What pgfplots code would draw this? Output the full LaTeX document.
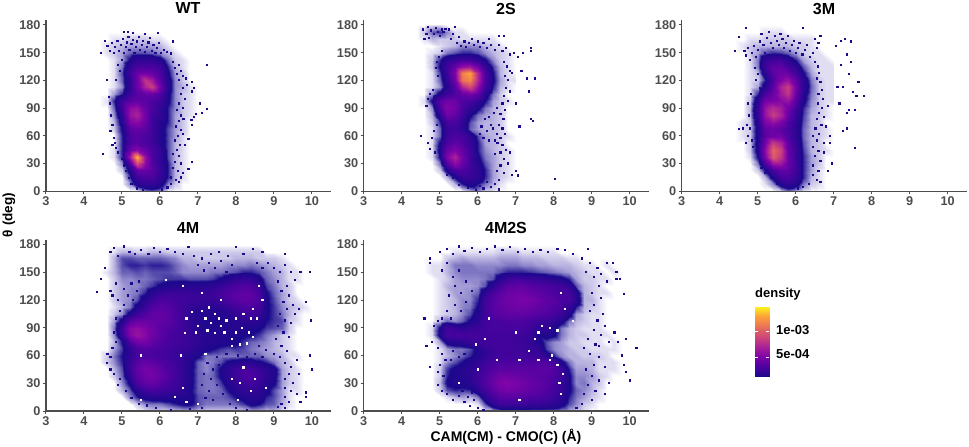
\documentclass[border=0pt]{standalone}
\usepackage{pgfplots}
\usepackage{fontspec}
\setmainfont{Liberation Sans}
\pgfplotsset{compat=1.18}
\definecolor{ax}{HTML}{4D4D4D}
\definecolor{nv}{HTML}{1B0A8C}
\pgfplotsset{
 colormap={dens}{rgb255(0pt)=(255,255,255); rgb255(1pt)=(225,222,242); rgb255(4pt)=(165,158,215); rgb255(8pt)=(85,75,172); rgb255(11pt)=(27,8,140); rgb255(30pt)=(76,2,160); rgb255(50pt)=(126,3,168); rgb255(70pt)=(170,35,150); rgb255(85pt)=(200,63,125); rgb255(100pt)=(220,91,104); rgb255(115pt)=(240,127,79); rgb255(130pt)=(251,162,56); rgb255(148pt)=(253,240,28)},
 colormap={densbar}{rgb255(0pt)=(27,8,140); rgb255(20pt)=(76,2,160); rgb255(40pt)=(126,3,168); rgb255(60pt)=(170,35,150); rgb255(75pt)=(200,63,125); rgb255(90pt)=(220,91,104); rgb255(105pt)=(240,127,79); rgb255(120pt)=(251,162,56); rgb255(138pt)=(253,240,28)},
 panel/.style={scale only axis,width=285pt,height=171.2pt,xmin=3,xmax=10.5,ymin=0,ymax=185.2,
  axis lines*=left,axis on top,axis line style={draw=ax,line width=1.2pt,-},
  xtick={3,4,5,6,7,8,9,10},ytick={0,30,60,90,120,150,180},
  tick style={draw=ax,line width=1pt},major tick length=3pt,
  tick align=outside,
  /pgf/number format/assume math mode=true,
  tick label style={font=\bfseries\fontsize{12.7}{13}\selectfont,text=ax},
  xticklabel style={yshift=1pt},yticklabel style={xshift=1pt},
  colormap name=dens,point meta min=0,point meta max=148,view={0}{90}},
 small/.style={surf,shader=interp,mesh/cols=14,point meta=\thisrow{c}},
 big/.style={surf,shader=interp,mesh/cols=29,point meta=\thisrow{c}},
 sp/.style={only marks,mark=square*,mark size=0.6pt,mark options={draw=nv,fill=nv,line width=0pt},color=nv},
 wsp/.style={only marks,mark=square*,mark size=0.6pt,mark options={draw=white,fill=white,line width=0pt},color=white},
 table/smalltab/.style={row sep=crcr,x expr={4.4+0.2*mod(\coordindex,14)},y expr={7.5*floor(\coordindex/14)}},
 table/bigtab/.style={row sep=crcr,x expr={4.4+0.2*mod(\coordindex,29)},y expr={7.5*floor(\coordindex/29)}},
}
\begin{document}
\begin{tikzpicture}
\path[use as bounding box] (0pt,0pt) rectangle (969pt,447pt);
% WT
\begin{axis}[panel,at={(46pt,255.7pt)},anchor=south west]
\addplot[small] table[smalltab] {c\\
0\\0\\0\\0\\0\\0\\5\\7\\5\\0\\0\\0\\0\\0\\
0\\0\\0\\0\\5\\15\\20\\20\\15\\5\\2\\0\\0\\0\\
0\\0\\0\\0\\10\\25\\30\\30\\20\\10\\3\\1\\0\\0\\
0\\0\\0\\2\\15\\40\\40\\35\\22\\10\\3\\1\\0\\0\\
0\\0\\0\\5\\30\\90\\55\\32\\20\\10\\3\\1\\0\\0\\
0\\0\\1\\10\\65\\135\\60\\30\\20\\8\\3\\1\\0\\0\\
0\\0\\1\\10\\40\\55\\40\\30\\20\\8\\3\\1\\0\\0\\
0\\0\\0\\10\\30\\35\\30\\25\\15\\8\\3\\1\\0\\0\\
0\\0\\0\\10\\30\\35\\30\\25\\15\\8\\4\\1\\0\\0\\
0\\0\\2\\12\\35\\40\\35\\25\\15\\8\\4\\2\\0\\0\\
0\\0\\3\\15\\50\\55\\40\\25\\15\\10\\4\\2\\0\\0\\
0\\0\\5\\20\\60\\70\\45\\25\\20\\10\\4\\2\\1\\0\\
0\\0\\7\\25\\55\\60\\40\\30\\20\\10\\5\\2\\1\\0\\
0\\1\\10\\25\\35\\40\\35\\30\\25\\12\\5\\2\\1\\0\\
0\\0\\4\\10\\25\\35\\40\\40\\30\\13\\5\\2\\1\\0\\
0\\0\\1\\5\\20\\42\\70\\85\\45\\15\\5\\3\\1\\0\\
0\\0\\1\\7\\20\\42\\80\\65\\35\\15\\5\\2\\0\\0\\
0\\0\\1\\8\\25\\40\\45\\40\\30\\12\\4\\2\\0\\0\\
0\\0\\1\\6\\20\\30\\30\\30\\25\\10\\3\\1\\0\\0\\
0\\0\\1\\4\\12\\20\\20\\20\\15\\6\\2\\1\\0\\0\\
0\\1\\2\\4\\7\\8\\8\\7\\5\\3\\1\\0\\0\\0\\
0\\1\\2\\3\\4\\4\\4\\4\\3\\1\\0\\0\\0\\0\\
0\\0\\1\\1\\2\\2\\2\\1\\1\\0\\0\\0\\0\\0\\
0\\0\\0\\0\\0\\0\\0\\0\\0\\0\\0\\0\\0\\0\\
0\\0\\0\\0\\0\\0\\0\\0\\0\\0\\0\\0\\0\\0\\
};
\addplot[sp] coordinates {(7.24,137)(7.24,89)(7.05,95)(6.95,84)(6.9,80)(6.85,72)(6.83,77)(7.1,85)(6.85,108)(6.9,112)(6.85,118)(6.35,162)(5.95,171)(4.55,163)(4.45,150)(5.05,172)(5.3,171)(6.75,57)(6.65,50)(6.85,32)(6.75,24)(6.55,15)(4.5,40)(4.6,120)
(4.62,157)(4.68,152)(4.73,160)(4.78,150)(4.82,156)(4.88,163)(4.93,152)(4.97,158)(5.02,165)(5.05,150)(5.1,156)(5.13,161)(5.17,167)(5.2,153)(5.25,159)(5.28,164)(5.33,150)(5.36,156)(5.4,162)(5.44,167)(5.48,153)(5.52,158)(5.56,163)(5.6,151)(5.65,156)(5.7,161)(5.74,166)(5.78,152)(5.83,158)(5.88,150)(5.92,155)(5.98,160)(6.03,150)(6.1,153)(6.18,151)(6.28,149)(5.15,172)(5.6,170)
(6.35,140)(6.4,133)(6.5,137)(6.45,127)(6.55,130)(6.6,125)(6.5,120)(6.68,122)(6.72,115)(6.6,112)(6.55,105)(6.65,100)(6.5,95)(6.6,90)(6.45,88)(6.55,82)(6.5,76)(6.62,78)(6.42,70)(6.55,66)(6.48,60)(6.6,62)(6.4,55)(6.52,50)(6.45,45)(6.35,40)(6.5,38)(6.4,32)(6.55,30)(6.35,25)(6.48,22)(6.6,20)(6.3,15)(6.42,12)(6.5,10)(6.3,8)(6.2,4)(6.05,2)
(4.82,52)(4.85,47)(4.9,42)(4.75,50)(4.8,58)(4.7,65)(4.75,72)(4.72,82)(4.68,95)(4.65,102)(5.0,35)(5.05,28)(5.1,22)(5.18,14)(5.25,8)(5.4,3)(5.55,1)(4.85,120)(4.95,130)(5,142)(4.9,137)};
\end{axis}
% 2S
\begin{axis}[panel,at={(363.7pt,255.7pt)},anchor=south west]
\addplot[small] table[smalltab] {c\\
0\\0\\0\\0\\0\\0\\0\\3\\5\\2\\1\\0\\0\\0\\
0\\0\\0\\0\\0\\3\\10\\15\\10\\6\\3\\1\\0\\0\\
0\\0\\0\\0\\3\\12\\22\\22\\18\\10\\4\\2\\1\\0\\
0\\0\\0\\2\\15\\30\\30\\25\\18\\10\\4\\2\\1\\0\\
0\\0\\0\\6\\32\\55\\40\\25\\15\\8\\4\\2\\1\\0\\
0\\0\\1\\12\\50\\70\\45\\25\\12\\6\\4\\2\\1\\0\\
0\\0\\1\\14\\40\\50\\40\\25\\10\\5\\3\\2\\1\\0\\
0\\0\\1\\12\\30\\38\\32\\22\\10\\4\\3\\2\\0\\0\\
0\\0\\1\\7\\24\\30\\28\\18\\8\\4\\3\\2\\1\\0\\
0\\0\\1\\7\\22\\25\\18\\7\\4\\3\\3\\2\\0\\0\\
0\\0\\2\\10\\28\\28\\18\\8\\4\\3\\3\\2\\0\\0\\
0\\0\\3\\20\\44\\38\\25\\12\\6\\4\\3\\2\\0\\0\\
0\\0\\5\\30\\52\\45\\30\\20\\12\\6\\3\\2\\0\\0\\
0\\1\\12\\35\\45\\42\\32\\28\\20\\11\\4\\2\\1\\0\\
0\\0\\5\\14\\25\\32\\40\\45\\35\\15\\6\\2\\0\\0\\
0\\0\\1\\5\\16\\35\\70\\90\\55\\25\\10\\3\\1\\0\\
0\\0\\1\\7\\20\\45\\110\\120\\70\\30\\12\\4\\1\\1\\
0\\0\\1\\9\\24\\50\\115\\130\\70\\30\\11\\3\\1\\0\\
0\\0\\2\\12\\25\\40\\60\\65\\45\\22\\9\\3\\1\\0\\
0\\0\\2\\10\\18\\22\\26\\26\\20\\12\\5\\2\\1\\0\\
0\\0\\1\\2\\6\\8\\10\\10\\8\\5\\3\\2\\1\\0\\
0\\0\\0\\1\\2\\3\\5\\5\\5\\3\\2\\1\\0\\0\\
0\\1\\3\\2\\2\\2\\1\\1\\1\\1\\1\\0\\0\\0\\
0\\2\\7\\9\\5\\1\\1\\0\\0\\0\\0\\0\\0\\0\\
0\\0\\1\\1\\0\\0\\0\\0\\0\\0\\0\\0\\0\\0\\
};
\addplot[sp] coordinates {(8.03,13)(7.4,78)(7.45,76)(7.5,122)(7.3,122)(7.35,108)(7.4,155)(7.4,152)(7.2,150)(7.15,130)(7.0,95)(7.1,70)(6.55,2)(6.55,168)(6.3,165)(7.0,22)(7.05,17)(6.9,18)(4.5,60)(6.7,168)(4.55,175)
(4.6,165)(4.65,170)(4.7,178)(4.72,166)(4.78,174)(4.85,170)(4.9,177)(4.95,172)(5.0,168)(5.05,175)(5.1,172)(5.15,176)(5.25,175)(5.4,178)(5.35,170)(5.3,165)(5.45,160)(5.5,167)(5.55,157)(5.65,162)(5.7,156)(5.78,160)(5.85,165)(5.9,158)(6.0,162)(6.05,156)(6.15,160)(6.25,155)(6.35,158)(6.45,153)(6.55,158)(6.65,152)(6.75,155)(6.85,148)(6.95,150)(7.05,145)
(6.7,140)(6.78,135)(6.85,130)(6.72,125)(6.8,120)(6.9,128)(6.75,112)(6.85,108)(6.7,103)(6.8,98)(6.65,95)(6.72,88)(6.6,84)(6.68,78)(6.55,72)(6.65,68)(6.5,62)(6.6,58)(6.72,62)(6.45,55)(6.3,80)(6.42,85)(6.5,90)(6.35,72)(6.2,78)(6.1,70)(6.25,65)(6.4,68)(6.05,62)(6.15,58)(6.3,55)(6.52,52)(6.65,50)(6.75,45)(6.85,42)(6.6,42)(6.45,40)(6.7,35)(6.8,30)(6.6,28)(6.5,22)(6.7,20)(6.55,12)(6.45,8)(6.35,5)(6.25,10)(6.15,3)(6.05,6)(5.95,1)(5.75,4)(5.5,7)(5.35,14)(5.2,18)
(4.7,52)(4.75,46)(4.8,58)(4.85,65)(4.88,42)(4.92,72)(4.95,80)(4.7,100)(4.65,92)(4.75,105)(4.82,110)(4.95,125)(4.9,133)(4.98,145)(4.92,140)(5.05,152)};
\end{axis}
% 3M
\begin{axis}[panel,at={(681.7pt,255.7pt)},anchor=south west]
\addplot[small] table[smalltab] {c\\
0\\0\\0\\0\\0\\0\\2\\6\\3\\1\\0\\0\\0\\0\\
0\\0\\0\\0\\1\\5\\15\\20\\14\\6\\2\\1\\0\\0\\
0\\0\\0\\0\\3\\14\\28\\30\\22\\10\\3\\1\\0\\0\\
0\\0\\0\\2\\12\\28\\38\\36\\24\\10\\4\\1\\0\\0\\
0\\0\\0\\6\\28\\60\\60\\40\\24\\10\\4\\2\\0\\0\\
0\\0\\1\\12\\50\\100\\80\\42\\22\\10\\4\\2\\0\\0\\
0\\0\\2\\15\\55\\105\\85\\40\\22\\9\\3\\2\\1\\0\\
0\\0\\2\\15\\45\\85\\70\\38\\20\\8\\3\\2\\0\\0\\
0\\1\\2\\15\\35\\45\\45\\30\\18\\7\\3\\2\\1\\0\\
0\\1\\2\\15\\38\\42\\35\\28\\17\\7\\3\\2\\1\\0\\
0\\1\\2\\18\\50\\60\\48\\32\\18\\8\\3\\2\\0\\0\\
0\\0\\3\\22\\60\\85\\70\\40\\20\\9\\3\\2\\1\\0\\
0\\0\\3\\22\\60\\75\\65\\45\\25\\10\\4\\2\\1\\0\\
0\\0\\2\\18\\45\\50\\55\\60\\32\\13\\5\\2\\1\\1\\
0\\0\\1\\10\\30\\42\\65\\80\\40\\15\\6\\2\\1\\1\\
0\\0\\1\\4\\16\\35\\70\\85\\45\\18\\7\\2\\1\\1\\
0\\0\\1\\2\\10\\30\\50\\60\\38\\18\\6\\2\\1\\1\\
0\\0\\1\\3\\18\\35\\42\\40\\26\\12\\4\\1\\1\\1\\
0\\0\\1\\6\\25\\38\\38\\28\\18\\8\\3\\1\\1\\1\\
0\\0\\1\\6\\20\\26\\26\\18\\10\\4\\2\\1\\1\\0\\
0\\0\\2\\4\\8\\10\\9\\7\\4\\2\\1\\1\\0\\0\\
0\\1\\2\\3\\3\\3\\3\\3\\2\\2\\1\\0\\0\\0\\
0\\0\\1\\1\\2\\2\\2\\2\\1\\1\\1\\0\\0\\0\\
0\\0\\0\\0\\1\\1\\1\\0\\0\\0\\0\\0\\0\\0\\
0\\0\\0\\0\\0\\0\\0\\0\\0\\0\\0\\0\\0\\0\\
};
\addplot[sp] coordinates {(7.55,47)(7.8,103)(7.6,103)(7.5,107)(7.65,118)(7.4,127)(7.45,140)(7.35,148)(7.3,165)(7.2,163)(7.45,162)(7.05,157)(7.2,137)(7.1,113)(7.25,113)(7.4,88)(7.35,68)(7.25,65)(7.15,95)(7.35,85)(7.55,88)(6.2,177)(4.7,177)(4.5,167)(4.4,152)(4.5,67)(6.65,168)
(4.65,152)(4.7,147)(4.75,155)(4.8,142)(4.85,150)(4.9,157)(4.95,145)(5.0,153)(5.05,162)(5.1,170)(5.15,158)(5.2,150)(5.25,166)(5.3,172)(5.35,160)(5.4,155)(5.45,168)(5.5,163)(5.55,158)(5.6,170)(5.65,165)(5.7,155)(5.75,160)(5.8,168)(5.85,152)(5.9,158)(5.95,163)(6.0,150)(6.05,155)(6.1,160)(6.18,148)(6.25,153)(6.3,158)(6.38,145)(6.45,150)(6.5,165)(6.55,155)(6.6,160)
(6.5,140)(6.58,135)(6.62,128)(6.55,122)(6.65,118)(6.7,110)(6.6,105)(6.72,100)(6.58,95)(6.7,90)(6.85,92)(6.62,85)(6.75,80)(6.55,78)(6.68,72)(6.8,70)(6.52,68)(6.62,62)(6.9,60)(6.45,60)(6.55,55)(6.75,52)(6.9,52)(6.45,48)(6.6,44)(6.75,42)(6.5,38)(6.65,33)(6.95,30)(6.45,28)(6.6,22)(6.85,22)(6.45,18)(6.55,12)(6.65,10)(6.35,8)(6.2,5)(6.05,3)(5.9,4)(5.5,8)(5.35,14)(5.2,20)(5.1,25)
(4.75,60)(4.7,52)(4.8,68)(4.72,72)(4.78,82)(4.75,95)(4.82,105)(4.85,55)(4.88,48)(4.62,68)(4.95,120)(5.0,127)(4.92,133)(5.05,112)};
\end{axis}
% 4M
\begin{axis}[panel,at={(46pt,36pt)},anchor=south west]
\addplot[big] table[bigtab] {c\\
0\\0\\0\\0\\0\\0\\1\\2\\2\\2\\2\\3\\3\\2\\2\\2\\2\\2\\2\\2\\3\\3\\2\\3\\1\\0\\0\\0\\0\\
0\\0\\0\\0\\0\\2\\5\\6\\6\\8\\10\\12\\12\\8\\6\\6\\6\\6\\7\\9\\13\\11\\8\\7\\3\\1\\0\\0\\0\\
0\\0\\0\\0\\5\\10\\14\\16\\16\\15\\14\\14\\13\\8\\7\\7\\7\\8\\11\\14\\16\\15\\10\\8\\4\\1\\0\\0\\0\\
0\\0\\0\\3\\8\\18\\25\\28\\26\\24\\22\\18\\12\\7\\6\\6\\7\\11\\16\\20\\21\\18\\13\\8\\4\\1\\1\\0\\0\\
0\\0\\0\\5\\13\\30\\38\\40\\34\\28\\24\\20\\13\\7\\6\\6\\9\\15\\20\\24\\26\\22\\16\\12\\4\\2\\1\\0\\0\\
0\\0\\2\\7\\20\\36\\44\\46\\40\\32\\26\\20\\13\\7\\6\\7\\12\\18\\25\\30\\30\\25\\18\\13\\4\\2\\1\\0\\0\\
0\\0\\3\\8\\24\\38\\46\\44\\38\\30\\26\\20\\13\\7\\5\\7\\12\\18\\24\\30\\28\\23\\18\\14\\4\\2\\1\\0\\0\\
0\\2\\5\\10\\22\\34\\40\\37\\32\\28\\24\\20\\14\\7\\5\\6\\8\\12\\14\\16\\16\\12\\10\\6\\3\\2\\0\\0\\0\\
0\\2\\6\\11\\20\\28\\30\\29\\27\\25\\23\\20\\16\\12\\6\\6\\6\\6\\6\\7\\7\\7\\5\\4\\3\\1\\1\\0\\0\\
0\\0\\4\\9\\20\\30\\32\\30\\28\\26\\24\\22\\20\\16\\13\\11\\9\\8\\9\\8\\6\\5\\4\\3\\2\\1\\0\\0\\0\\
0\\0\\3\\11\\30\\44\\46\\38\\32\\28\\26\\24\\22\\18\\16\\15\\14\\13\\12\\9\\7\\6\\5\\3\\2\\1\\0\\0\\0\\
0\\0\\5\\22\\52\\60\\54\\44\\36\\30\\26\\24\\22\\18\\16\\15\\15\\14\\13\\12\\11\\9\\6\\4\\2\\1\\0\\0\\0\\
0\\0\\6\\24\\52\\57\\50\\44\\36\\32\\28\\24\\20\\16\\14\\14\\14\\15\\15\\14\\13\\12\\9\\8\\7\\2\\0\\0\\0\\
0\\0\\4\\14\\34\\42\\42\\40\\38\\36\\30\\24\\18\\15\\13\\13\\13\\14\\16\\18\\18\\16\\11\\9\\8\\2\\1\\0\\0\\
0\\0\\2\\5\\14\\24\\32\\38\\40\\36\\30\\24\\18\\15\\14\\14\\15\\16\\20\\24\\26\\22\\12\\9\\6\\3\\1\\0\\0\\
0\\0\\1\\3\\6\\14\\22\\32\\36\\34\\28\\24\\20\\18\\16\\16\\18\\22\\26\\30\\30\\26\\12\\9\\5\\3\\2\\1\\0\\
0\\0\\2\\4\\5\\8\\16\\24\\30\\30\\27\\26\\24\\22\\22\\22\\26\\30\\34\\37\\36\\30\\12\\8\\4\\2\\1\\0\\0\\
0\\0\\2\\4\\5\\6\\10\\16\\22\\24\\24\\24\\22\\22\\22\\24\\28\\32\\36\\38\\36\\28\\12\\7\\4\\2\\0\\0\\0\\
0\\0\\2\\4\\5\\5\\7\\9\\12\\14\\15\\16\\16\\16\\17\\18\\22\\26\\30\\32\\30\\22\\9\\6\\3\\2\\0\\0\\0\\
0\\0\\2\\5\\5\\6\\6\\7\\8\\9\\9\\9\\8\\8\\8\\9\\12\\16\\20\\22\\20\\14\\7\\5\\3\\1\\1\\0\\0\\
0\\1\\3\\7\\7\\8\\7\\8\\8\\8\\7\\5\\5\\5\\5\\6\\6\\7\\8\\10\\10\\8\\6\\4\\3\\1\\1\\0\\0\\
0\\0\\3\\8\\10\\10\\9\\10\\10\\9\\7\\5\\4\\4\\4\\4\\4\\5\\5\\5\\6\\5\\4\\3\\2\\1\\0\\0\\0\\
0\\0\\3\\8\\8\\7\\7\\7\\7\\6\\5\\3\\3\\2\\2\\2\\2\\2\\3\\3\\3\\2\\2\\2\\1\\0\\0\\0\\0\\
0\\0\\1\\3\\3\\2\\2\\3\\3\\2\\2\\2\\2\\2\\2\\2\\2\\2\\2\\2\\2\\2\\0\\0\\0\\0\\0\\0\\0\\
0\\0\\0\\0\\0\\0\\0\\0\\0\\0\\0\\0\\0\\0\\0\\0\\0\\0\\0\\0\\0\\0\\0\\0\\0\\0\\0\\0\\0\\
};
\addplot[wsp] coordinates {(6.7,100)(6.85,107)(7,92)(7.1,108)(7.2,100)(7.3,112)(7.35,95)(7.45,105)(7.55,100)(7.6,92)(6.65,84)(6.95,85)(7.25,87)(7.45,84)(7.7,85)(7.9,78)(8,85)(8.15,90)(8.35,85)(8.4,100)(8.2,105)(8.45,110)(7.75,98)(8,100)(6.55,60)(7.2,62)(7.9,70)(8.1,72)(8.3,73)(8.45,80)(6.4,15)(6.7,10)(7,8)(8.05,12)(8.4,22)(8.1,30)(7.9,35)(8.5,35)(8.8,25)(8.2,47)(5.5,60)(6.6,25)(5.5,12)(8.6,135)(8.7,120)(6.15,142)(6.6,135)(7.1,128)(7.6,120)(8.55,100)};
\addplot[sp] coordinates {(4.35,129)(4.45,143)(4.55,155)(9.97,98)(9.85,118)(10.0,45)(9.95,60)(9.85,20)(9.85,15)(9.7,10)(9.65,40)(9.95,150)(9.7,150)(9.65,110)(9.55,105)(8,177)(6.75,177)
(4.7,172)(4.8,176)(4.9,168)(5.05,178)(5.2,172)(5.35,170)(5.5,174)(5.7,170)(5.85,176)(6,172)(6.2,175)(6.4,172)(6.6,170)(6.9,168)(7.1,165)(7.35,170)(7.55,172)(7.8,168)(8.2,170)(8.45,175)(8.7,172)(9.3,170)(7.0,158)(7.15,152)(7.3,160)(7.45,155)(7.6,162)(7.75,150)(7.9,158)(8.55,160)(8.7,155)(8.85,160)(9,155)(9.15,150)(9.3,158)(9.45,150)(9.55,142)(9.35,135)(9.2,130)(9.1,140)(9.4,125)(9.5,115)(9.25,118)(9.35,110)(9.15,105)(9.3,98)(9.45,95)(9.1,92)(9.25,85)(9.4,80)(9.05,78)(9.2,70)(9.35,65)(9,62)(9.15,58)(9.3,52)(9.45,48)(9.6,55)(9.4,40)(9.3,35)(9.5,30)(9.3,25)(9.45,22)(9.6,18)(9.3,15)(9.4,10)(9.2,8)(9.1,4)(9.3,3)(8.8,66)(8.6,70)(8.9,50)(8.7,58)(8.5,62)(8.3,58)(8.05,60)(7.75,62)(7.5,58)(7.25,52)(7.4,45)(7.55,50)(7.15,40)(7.35,35)(7.6,40)(7.1,28)(7.3,22)(7.5,28)(7.65,18)(7.4,12)(7.2,14)(7.85,8)(8,3)(8.3,1)(7.1,3)(6.8,2)(6.3,1)(5.9,3)(5.65,6)(5.45,8)(5.25,14)(5.1,22)(4.9,28)(4.95,35)(4.8,40)(4.7,45)(4.6,52)(4.7,58)(4.62,62)(4.75,68)(4.85,75)(4.8,85)(4.85,100)(4.95,108)(5.05,115)(4.9,120)(4.75,125)(5.15,125)(5.3,120)(5.4,130)(5.05,132)(5.25,138)(5.45,140)(4.85,138)(4.7,130)};
\end{axis}
% 4M2S
\begin{axis}[panel,at={(363.7pt,36pt)},anchor=south west]
\addplot[big] table[bigtab] {c\\
0\\0\\0\\0\\0\\0\\0\\0\\0\\1\\3\\6\\6\\6\\6\\6\\6\\6\\6\\5\\3\\2\\1\\0\\0\\0\\0\\0\\0\\
0\\0\\0\\0\\0\\0\\0\\0\\1\\8\\18\\24\\24\\24\\24\\22\\22\\20\\18\\14\\8\\5\\2\\1\\0\\0\\0\\0\\0\\
0\\0\\0\\0\\1\\3\\4\\3\\6\\18\\28\\34\\36\\34\\32\\30\\30\\28\\24\\18\\10\\6\\4\\2\\1\\0\\0\\0\\0\\
0\\0\\0\\2\\8\\10\\9\\10\\18\\26\\36\\44\\46\\44\\42\\38\\36\\32\\26\\22\\12\\7\\5\\3\\1\\0\\0\\0\\0\\
0\\0\\0\\3\\12\\15\\14\\16\\24\\32\\42\\50\\52\\48\\44\\40\\38\\34\\28\\22\\12\\5\\6\\3\\2\\0\\0\\0\\0\\
0\\0\\0\\2\\10\\14\\15\\18\\24\\30\\38\\44\\44\\42\\40\\38\\36\\34\\30\\24\\12\\5\\5\\4\\2\\1\\0\\0\\0\\
0\\0\\0\\2\\9\\13\\15\\18\\22\\28\\32\\36\\36\\36\\36\\36\\36\\36\\32\\24\\10\\4\\4\\3\\1\\1\\1\\0\\0\\
0\\0\\0\\1\\5\\8\\11\\15\\20\\24\\28\\30\\30\\30\\30\\30\\32\\32\\28\\14\\6\\3\\3\\3\\1\\1\\1\\0\\0\\
0\\0\\0\\1\\3\\5\\7\\10\\14\\20\\24\\26\\26\\26\\26\\24\\24\\18\\10\\5\\3\\3\\2\\2\\2\\1\\0\\0\\0\\
0\\0\\0\\1\\4\\6\\6\\8\\14\\20\\24\\26\\26\\25\\24\\22\\20\\9\\5\\4\\3\\2\\2\\1\\1\\1\\1\\0\\0\\
0\\0\\0\\4\\14\\16\\18\\22\\24\\26\\26\\26\\25\\24\\23\\20\\15\\8\\5\\4\\2\\2\\1\\1\\1\\0\\1\\0\\0\\
0\\0\\1\\14\\28\\28\\28\\28\\26\\26\\26\\26\\26\\25\\24\\22\\12\\14\\12\\6\\3\\2\\2\\1\\1\\1\\0\\0\\0\\
0\\0\\1\\12\\26\\22\\18\\22\\24\\26\\28\\28\\28\\28\\28\\24\\18\\20\\14\\6\\3\\2\\1\\1\\1\\0\\0\\0\\0\\
0\\0\\0\\3\\7\\5\\7\\12\\18\\26\\28\\28\\30\\30\\30\\28\\24\\22\\20\\14\\6\\3\\2\\1\\1\\0\\0\\0\\0\\
0\\0\\0\\1\\2\\3\\5\\8\\15\\26\\32\\36\\38\\38\\38\\36\\34\\32\\26\\24\\14\\4\\2\\1\\1\\0\\0\\0\\0\\
0\\0\\0\\1\\2\\3\\5\\6\\12\\26\\34\\38\\42\\44\\44\\42\\38\\36\\32\\28\\22\\10\\3\\2\\1\\0\\0\\0\\0\\
0\\0\\0\\1\\2\\3\\5\\5\\10\\26\\34\\40\\44\\46\\48\\46\\42\\38\\34\\30\\28\\18\\3\\3\\1\\0\\0\\0\\0\\
0\\0\\0\\1\\2\\4\\4\\5\\7\\18\\30\\36\\42\\44\\44\\40\\38\\34\\30\\28\\28\\16\\3\\2\\1\\1\\0\\0\\0\\
0\\0\\0\\1\\3\\4\\4\\4\\5\\8\\18\\28\\36\\38\\38\\34\\32\\30\\28\\26\\20\\8\\3\\2\\1\\0\\0\\0\\0\\
0\\0\\0\\1\\2\\4\\5\\5\\5\\6\\8\\16\\24\\28\\26\\24\\22\\20\\16\\14\\10\\4\\2\\2\\1\\1\\0\\0\\0\\
0\\0\\1\\1\\3\\5\\6\\6\\6\\6\\6\\8\\10\\10\\10\\9\\8\\7\\6\\5\\4\\3\\2\\1\\1\\0\\1\\0\\0\\
0\\0\\1\\1\\3\\6\\6\\6\\5\\5\\5\\5\\6\\6\\5\\5\\4\\4\\3\\3\\3\\2\\1\\1\\0\\1\\0\\0\\0\\
0\\0\\0\\0\\2\\3\\4\\3\\3\\3\\3\\4\\4\\4\\3\\3\\3\\2\\2\\2\\1\\1\\0\\0\\0\\0\\0\\0\\0\\
0\\0\\0\\0\\0\\1\\1\\1\\1\\1\\1\\2\\2\\2\\1\\1\\1\\1\\1\\0\\0\\0\\0\\0\\0\\0\\0\\0\\0\\
0\\0\\0\\0\\0\\0\\0\\0\\0\\0\\0\\0\\0\\0\\0\\0\\0\\0\\0\\0\\0\\0\\0\\0\\0\\0\\0\\0\\0\\
};
\addplot[wsp] coordinates {(6,45)(5.95,72)(6.2,78)(7,85)(7.35,65)(6.5,55)(7.1,55)(7.6,55)(6.3,100)(8.2,128)(7.6,85)(7.9,90)(8.1,87)(7.7,92)(7.5,78)(7.95,60)(7.9,55)(8.1,50)(8.3,110)(8.5,97)(8.25,40)(8.15,30)(8.2,18)(7.1,12)(5.5,30)};
\addplot[sp] coordinates {(10.18,68)(10,33)(9.65,150)(9.65,143)(9.75,143)(9.85,127)(9.55,160)(9.4,160)(9.9,78)(9.8,60)(9.85,50)(9.9,42)(9.6,85)(9.7,75)(4.65,70)(4.6,100)(4.75,48)(4.75,160)(4.75,165)(8.9,175)(9.2,70)(9.45,30)(9.35,18)
(5.0,172)(5.2,175)(5.35,170)(5.5,178)(5.65,173)(5.85,176)(6.05,172)(6.25,175)(6.45,178)(6.65,174)(6.85,177)(7.05,172)(7.25,175)(7.45,172)(7.65,174)(7.85,172)(8.1,175)(8.3,174)(8.5,170)(8.75,165)(8.95,160)(9.15,155)(8.85,150)(9.05,145)(9.25,148)(9.4,140)(9.2,135)(9,128)(9.25,122)(9.05,115)(9.3,105)(8.95,108)(9.15,98)(9.35,92)(9.05,88)(9.25,82)(8.9,78)(9.1,72)(9.45,75)(8.8,68)(8.95,62)(9.2,58)(9.35,48)(9.05,50)(8.85,45)(9.0,38)(9.2,33)(8.9,28)(9.1,22)(8.8,18)(9.0,12)(8.75,8)(8.6,3)(5.05,152)(5.2,160)(5.35,145)(5.5,152)(5.7,140)(5.55,128)(5.4,135)(5.25,125)(5.4,115)(5.55,108)(5.7,118)(5.85,130)(5.2,108)(5.05,100)(4.95,97)(5.3,100)(4.85,92)(4.8,75)(4.95,68)(5.05,62)(5.15,55)(5.0,50)(4.95,42)(5.1,38)(4.95,28)(5.05,22)(5.2,18)(5.35,12)(5.5,16)(5.65,10)(5.8,5)(6,3)(6.15,1)(5.9,12)(5.85,20)(5.75,15)(5.6,22)(5.35,65)(5.5,58)(5.65,62)(5.3,55)};
\end{axis}
% legend
\begin{axis}[scale only axis,at={(755pt,70pt)},anchor=south west,width=14pt,height=70pt,
 xmin=0,xmax=1,ymin=10,ymax=148,view={0}{90},colormap name=densbar,point meta min=10,point meta max=148,
 axis lines=none,clip=false]
\addplot[surf,shader=interp,mesh/cols=2,point meta=\thisrow{c}] table[row sep=crcr,x=x,y=y] {x y c\\
0 10 10\\
1 10 10\\
0 148 148\\
1 148 148\\
};
\addplot[white,line width=0.4pt] coordinates {(0,50)(0.2,50)};
\addplot[white,line width=0.4pt] coordinates {(0.8,50)(1,50)};
\addplot[white,line width=0.4pt] coordinates {(0,100)(0.2,100)};
\addplot[white,line width=0.4pt] coordinates {(0.8,100)(1,100)};
\end{axis}
\node[anchor=center,font=\bfseries\fontsize{16}{16}\selectfont] at (188pt,439pt) {WT};
\node[anchor=center,font=\bfseries\fontsize{16}{16}\selectfont] at (506pt,438pt) {2S};
\node[anchor=center,font=\bfseries\fontsize{16}{16}\selectfont] at (824pt,438pt) {3M};
\node[anchor=center,font=\bfseries\fontsize{16}{16}\selectfont] at (188pt,219pt) {4M};
\node[anchor=center,font=\bfseries\fontsize{16}{16}\selectfont] at (506pt,219pt) {4M2S};
\node[anchor=center,font=\bfseries\fontsize{14}{14}\selectfont] at (506pt,10pt) {CAM(CM) - CMO(C) (Å)};
\node[anchor=center,rotate=90,font=\bfseries\fontsize{13.5}{14}\selectfont] at (9pt,232pt) {θ (deg)};
\node[anchor=west,inner sep=0pt,font=\bfseries\fontsize{13}{13}\selectfont] at (755pt,153pt) {density};
\node[anchor=west,inner sep=0pt,font=\fontsize{13}{13}\bfseries\selectfont] at (776pt,117pt) {1e-03};
\node[anchor=west,inner sep=0pt,font=\fontsize{13}{13}\bfseries\selectfont] at (776pt,93pt) {5e-04};
\end{tikzpicture}
\end{document}
